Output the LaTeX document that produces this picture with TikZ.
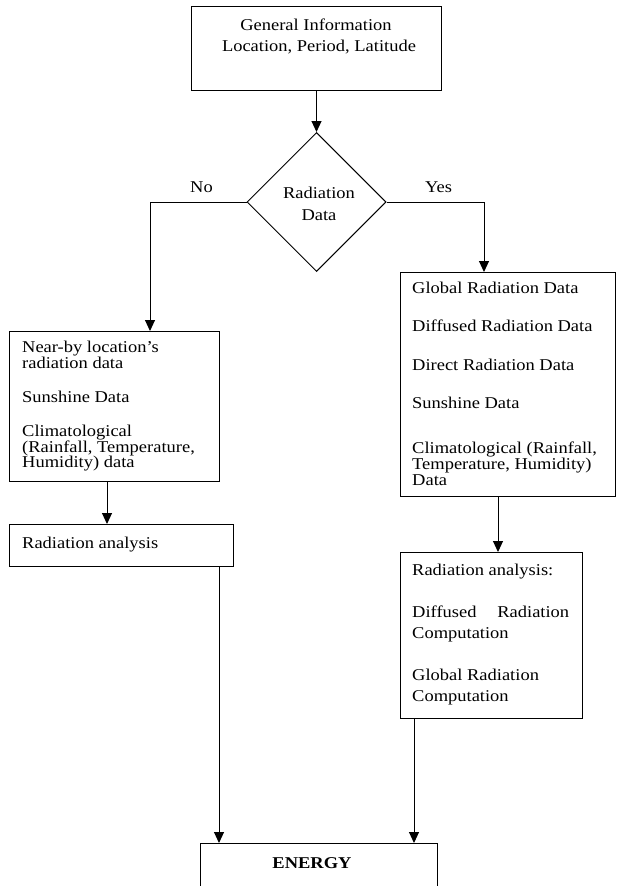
\documentclass[tikz,border=0pt]{standalone}
\usepackage{fontspec}
\setmainfont{Liberation Serif}[FakeStretch=1.12]
\usetikzlibrary{arrows.meta,shapes.geometric}
\tikzset{
  box/.style={draw, line width=1pt, rectangle, inner sep=0pt, anchor=north west},
  txt/.style={anchor=base west, inner sep=0pt, font=\fontsize{16.5}{15}\selectfont},
  ctxt/.style={anchor=base, inner sep=0pt, font=\fontsize{16.5}{15}\selectfont},
  arr/.style={line width=1pt, -{Triangle[length=11pt,width=10pt]}},
  ln/.style={line width=1pt}
}
\begin{document}
\begin{tikzpicture}[x=1pt,y=-1pt]
\useasboundingbox (0,0) rectangle (616,886);
\clip (0,0) rectangle (616,886);
% boxes
\node[box, minimum width=250pt, minimum height=84pt] (top) at (191,6) {};
\node[draw, line width=1pt, diamond, minimum width=139pt, minimum height=139pt, inner sep=0pt] (dia) at (316.5,202) {};
\node[box, minimum width=210pt, minimum height=150pt] (lb1) at (9,331) {};
\node[box, minimum width=224pt, minimum height=42pt] (lb2) at (9,524) {};
\node[box, minimum width=215pt, minimum height=224pt] (rb1) at (400,272) {};
\node[box, minimum width=182pt, minimum height=166pt] (rb2) at (400,552) {};
\node[box, minimum width=237pt, minimum height=60pt] (en) at (200,843) {};
% texts
\node[ctxt] (t1) at (316,30.7) {General Information};
\node[ctxt] (t2) at (319,51.7) {Location, Period, Latitude};
\node[ctxt] (d1) at (319,198) {Radiation};
\node[ctxt] (d2) at (319,220) {Data};
\node[txt] (no) at (190,192) {No};
\node[txt] (yes) at (425,192) {Yes};
\node[txt] (l1) at (22,352.7) {Near-by location’s};
\node[txt] (l2) at (22,368.3) {radiation data};
\node[txt] (l3) at (22,402.2) {Sunshine Data};
\node[txt] (l4) at (22,436.3) {Climatological};
\node[txt] (l5) at (22,452) {(Rainfall, Temperature,};
\node[txt] (l6) at (22,467.8) {Humidity) data};
\node[txt] (l7) at (22,548) {Radiation analysis};
\node[txt] (r1) at (412,293.3) {Global Radiation Data};
\node[txt] (r2) at (412,331.7) {Diffused Radiation Data};
\node[txt] (r3) at (412,370) {Direct Radiation Data};
\node[txt] (r4) at (412,408.8) {Sunshine Data};
\node[txt] (r5) at (412,453.5) {Climatological (Rainfall,};
\node[txt] (r6) at (412,469.5) {Temperature, Humidity)};
\node[txt] (r7) at (412,485.5) {Data};
\node[txt] (s1) at (412,575) {Radiation analysis:};
\node[txt] (s2) at (412,617) {\hbox to 157pt{Diffused\hfill Radiation}};
\node[txt] (s3) at (412,638) {Computation};
\node[txt] (s4) at (412,680) {Global Radiation};
\node[txt] (s5) at (412,701.7) {Computation};
\node[ctxt, font=\fontsize{16.5}{15}\selectfont\bfseries] (et) at (312,868) {ENERGY};
% coordinates
\coordinate (lin) at (150,331);
\coordinate (rin) at (484,272);
\coordinate (l1out) at (107,481);
\coordinate (l2in) at (107,524);
\coordinate (r1out) at (498,496);
\coordinate (r2in) at (498,552);
\coordinate (l2out) at (219,566);
\coordinate (eninl) at (219,843);
\coordinate (r2out) at (414,718);
\coordinate (eninr) at (414,843);
% connectors
\draw[arr] (top.south) -- (dia.north);
\draw[arr] (dia.west) -| (lin);
\draw[arr] (dia.east) -| (rin);
\draw[arr] (l1out) -- (l2in);
\draw[arr] (r1out) -- (r2in);
\draw[arr] (l2out) -- (eninl);
\draw[arr] (r2out) -- (eninr);
\end{tikzpicture}
\end{document}
